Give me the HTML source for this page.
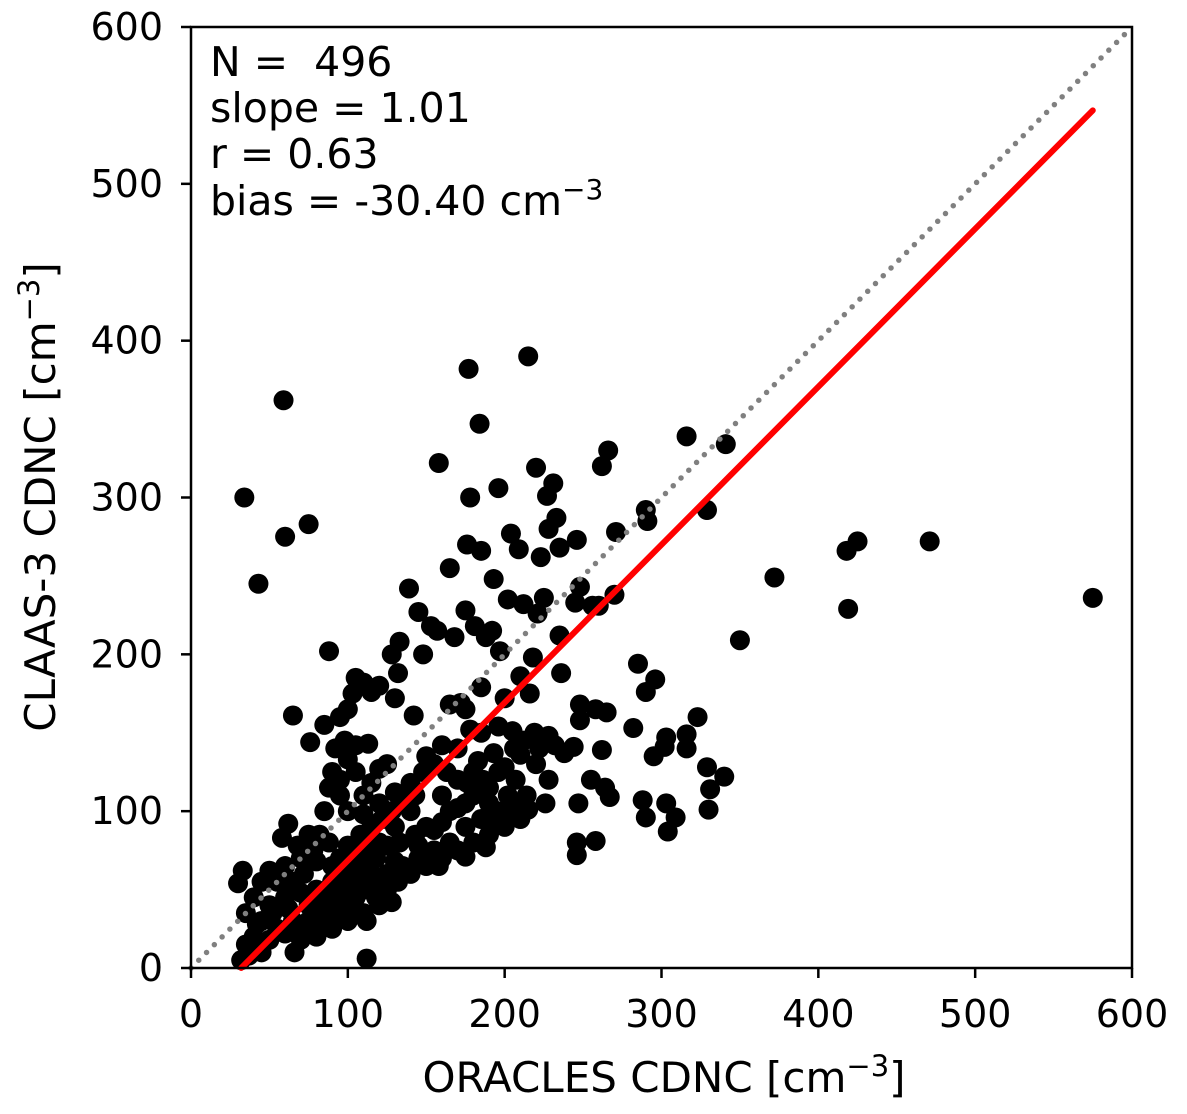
<!DOCTYPE html>
<html><head><meta charset="utf-8"><style>
body{margin:0;background:#fff;}
svg text{font-family:"DejaVu Sans","Liberation Sans",sans-serif;fill:#000;}
</style></head><body>
<svg id="chart" width="1187" height="1109" xmlns="http://www.w3.org/2000/svg">
<g id="pts"></g>
<g id="lines"></g>
<rect x="191" y="27" width="941" height="941" fill="none" stroke="#000" stroke-width="2.5"/>
<g id="ticks"></g>
<g font-size="41">
<text x="210" y="76" xml:space="preserve">N =  496</text>
<text x="210" y="122">slope = 1.01</text>
<text x="210" y="168">r = 0.63</text>
<text x="210" y="215">bias = -30.40 cm<tspan dy="-16" font-size="28">−3</tspan></text>
</g>
<text x="664" y="1092" font-size="42" text-anchor="middle">ORACLES CDNC [cm<tspan dy="-16" font-size="29">−3</tspan><tspan dy="16">]</tspan></text>
<text transform="translate(55,497) rotate(-90)" font-size="42" text-anchor="middle">CLAAS-3 CDNC [cm<tspan dy="-16" font-size="29">−3</tspan><tspan dy="16">]</tspan></text>
</svg>
<script>
const xTicks=[0,100,200,300,400,500,600];
const yTicks=[0,100,200,300,400,500,600];
const fitSlope=1.007, fitIntercept=-32.2, fitRange=[32,575];
const oracles=[59,34,60,75,43,65,76,88,85,177,215,184,158,196,178,220,227,231,266,262,316,341,329,290,291,271,260,270,246,235,228,233,204,209,223,193,176,185,165,139,145,153,175,157,168,181,188,192,202,212,221,225,235,245,256,248,197,185,218,210,200,216,148,133,128,132,142,165,172,175,178,185,196,205,219,228,232,238,236,248,258,265,285,290,296,282,295,303,302,316,323,316,329,340,331,330,309,303,304,288,290,264,267,255,247,246,246,258,262,248,244,220,228,210,215,195,188,175,158,350,372,418,425,471,419,575,112,32,30,33,66,105,110,115,120,103,95,100,92,98,105,113,100,90,88,95,100,110,120,125,130,137,143,150,160,170,183,193,200,207,214,202,190,180,170,160,150,143,133,125,118,110,100,90,80,70,60,50,45,40,35,37,45,55,65,75,85,95,105,115,125,120,110,100,90,80,70,55,50,60,65,72,78,82,88,95,100,108,115,122,128,135,140,130,120,110,100,90,80,70,62,58,45,40,35,42,52,62,75,85,95,105,115,125,135,145,155,165,175,185,195,205,160,170,180,190,200,210,165,175,185,155,145,130,120,110,100,90,80,70,60,50,112,118,128,132,140,150,160,170,180,190,200,95,105,115,85,75,68,110,120,130,140,148,155,163,176,186,196,206,212,222,226];
const claas=[362,300,275,283,245,161,144,202,155,382,390,347,322,306,300,319,301,309,330,320,339,334,292,292,285,278,231,238,273,268,280,287,277,267,262,248,270,266,255,242,227,218,228,215,211,218,211,215,235,232,226,236,212,233,231,243,202,179,198,186,172,175,200,208,200,188,161,168,169,165,152,150,154,151,150,148,142,137,188,168,165,163,194,176,184,153,135,147,141,149,160,140,128,122,114,101,96,105,87,107,96,115,109,120,105,80,72,81,139,158,141,130,120,136,101,95,77,71,65,209,249,266,272,272,229,236,6,5,54,62,10,185,182,176,180,175,160,165,140,145,142,143,133,125,115,110,100,98,127,130,172,108,110,135,142,140,132,137,128,120,110,110,105,110,102,93,90,85,80,78,70,65,60,55,50,48,45,40,30,20,15,8,10,25,30,40,45,50,55,60,50,40,35,30,25,20,18,55,62,65,55,60,75,85,80,70,78,85,90,95,100,110,100,90,80,75,70,65,68,70,92,83,55,45,35,28,35,38,30,35,40,45,50,60,65,70,75,80,90,95,100,105,110,120,125,115,90,95,100,105,112,88,78,68,55,50,40,35,30,25,22,18,30,45,42,55,60,65,70,75,80,85,95,120,125,118,100,85,78,110,105,112,118,125,130,125,118,120,125,140,145,140,105];
const X0=191,Y0=968,S=941/600;
const sx=v=>X0+v*S, sy=v=>Y0-v*S;
const NS='http://www.w3.org/2000/svg';
function mk(t,a,p){const e=document.createElementNS(NS,t);for(const k in a)e.setAttribute(k,a[k]);p.appendChild(e);return e;}
const pts=document.getElementById('pts');
for(let i=0;i<oracles.length;i++){
 const c=mk('circle',{cx:sx(oracles[i]),cy:sy(claas[i]),r:10,fill:'#000'},pts);
 
 
}
const lines=document.getElementById('lines');
const d=mk('line',{x1:sx(0),y1:sy(0),x2:sx(600),y2:sy(600),stroke:'#808080','stroke-width':5.5,'stroke-dasharray':'0 11','stroke-linecap':'round'},lines);


const f=mk('line',{x1:sx(fitRange[0]),y1:sy(fitSlope*fitRange[0]+fitIntercept),x2:sx(fitRange[1]),y2:sy(fitSlope*fitRange[1]+fitIntercept),stroke:'#ff0000','stroke-width':6,'stroke-linecap':'round'},lines);


const tk=document.getElementById('ticks');
xTicks.forEach(v=>{
 mk('line',{x1:sx(v),y1:Y0,x2:sx(v),y2:Y0+10,stroke:'#000','stroke-width':2.5},tk);
 const t=mk('text',{x:sx(v),y:1027,'font-size':38,'text-anchor':'middle'},tk);t.textContent=v;
 
 
});
yTicks.forEach(v=>{
 mk('line',{x1:X0-10,y1:sy(v),x2:X0,y2:sy(v),stroke:'#000','stroke-width':2.5},tk);
 const t=mk('text',{x:163,y:sy(v)+13,'font-size':38,'text-anchor':'end'},tk);t.textContent=v;
 
 
});
</script>
</body></html>
